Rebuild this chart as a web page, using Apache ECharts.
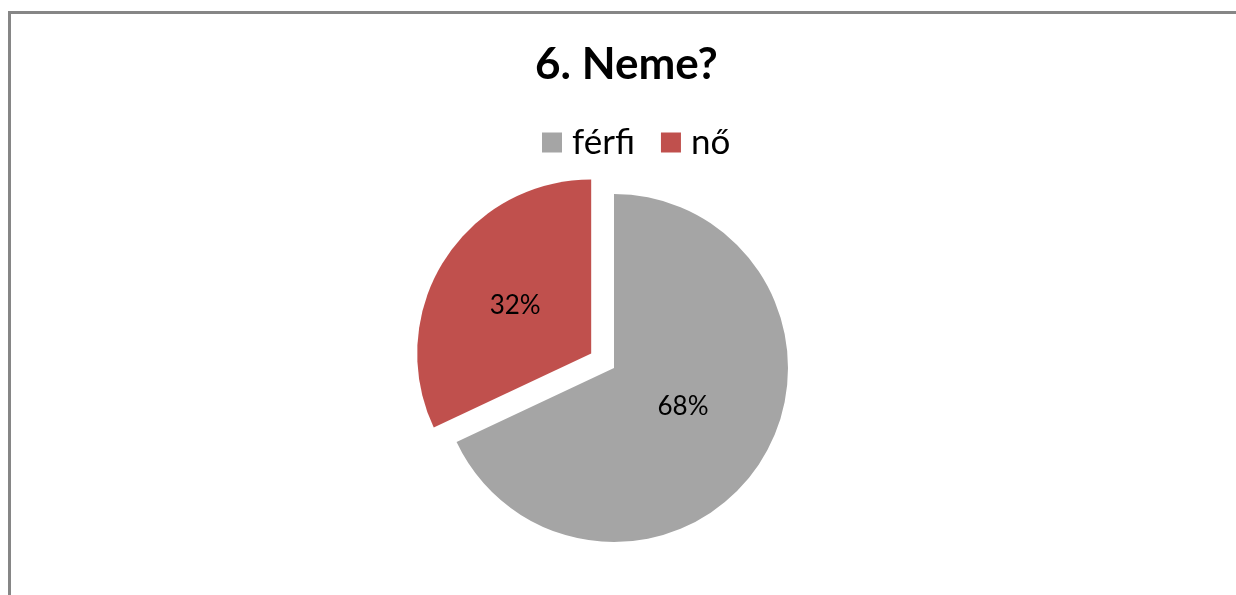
<!DOCTYPE html>
<html><head><meta charset="utf-8">
<script src="https://cdn.jsdelivr.net/npm/echarts@6/dist/echarts.min.js"></script>
<style>
html,body{margin:0;padding:0;background:#fff;overflow:hidden}
#frame{position:absolute;left:8px;top:11px;width:1300px;height:700px;border-top:3px solid #868686;border-left:3px solid #868686;box-sizing:border-box}
#c{position:absolute;left:0;top:0;width:1236px;height:595px}
</style></head>
<body><div id="frame"></div><div id="c"></div>
<script>
const titleText = "6. Neme?";
const categories = ["férfi", "nő"];
const values = [68, 32];
const colors = ["#A5A5A5", "#C0504D"];
const labelShift = [[-7, -10], [-4, -5]];

const chart = echarts.init(document.getElementById('c'), null, {renderer:'canvas'});
chart.setOption({
  animation:false,
  title:{text:titleText,left:530,top:38,textStyle:{fontFamily:'Lato, "Open Sans", sans-serif',fontWeight:'bold',fontSize:44,color:'#000'}},
  legend:{top:120,left:537,itemWidth:20,itemHeight:20,itemGap:26,icon:'rect',selectedMode:false,
    textStyle:{fontFamily:'Lato, "Open Sans", sans-serif',fontSize:35,color:'#000',padding:[0,0,4,5]},
    data:categories},
  series:[{
    type:'pie',center:[614,368],radius:174,startAngle:90,clockwise:true,
    selectedMode:'multiple',selectedOffset:27,
    label:{show:true,position:'inside',formatter:'{d}%',fontFamily:'Lato, "Open Sans", sans-serif',fontSize:26,color:'#000'},
    labelLine:{show:false},
    emphasis:{disabled:true},
    data:categories.map((n,i)=>({name:n,value:values[i],selected:i===1,itemStyle:{color:colors[i]},label:{offset:labelShift[i]}}))
  }]
});
</script></body></html>
